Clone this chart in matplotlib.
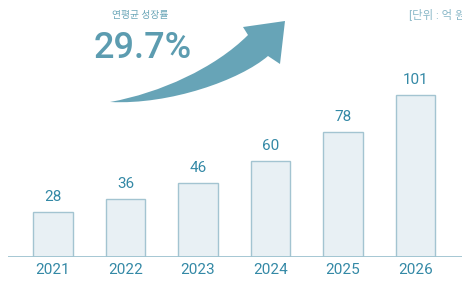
import matplotlib.pyplot as plt
import matplotlib.transforms as mtransforms
from matplotlib.path import Path
from matplotlib.patches import PathPatch

plt.rcParams['font.family'] = ['Roboto', 'Noto Sans CJK KR', 'DejaVu Sans']

years = ['2021', '2022', '2023', '2024', '2025', '2026']
values = [28, 36, 46, 60, 78, 101]
cagr_label = '연평균 성장률'
cagr_value = '29.7%'
unit_label = '[단위 : 억 원]'

W, H = 462, 284
fig = plt.figure(figsize=(W / 100, H / 100), dpi=100)

# axes: baseline at y=257px, ~72.5px between bar centres
ax = fig.add_axes([8 / W, 1 - 257 / H, 1 - 8 / W, 257 / H])
x = list(range(len(years)))
ax.bar(x, values, width=0.54, color='#e8f0f4', edgecolor='#a3c4d1', linewidth=1.0, zorder=2)
for xi, v in zip(x, values):
    ax.text(xi, v + 5, str(v), ha='center', va='bottom', fontsize=11,
            color='#3489a6')
ax.set_xlim(-0.62, 5.64)
ax.set_ylim(0, 160.6)
ax.axhline(0, color='#9ec3d0', linewidth=1.3, zorder=3)
for s in ax.spines.values():
    s.set_visible(False)
ax.set_yticks([])
ax.set_xticks(x)
ax.set_xticklabels(years, fontsize=11, color='#3489a6')
ax.tick_params(axis='x', length=0, pad=4)

# pixel transform (origin top-left) for decorations
px = mtransforms.Affine2D().scale(1 / W, -1 / H).translate(0, 1) + fig.transFigure

fig.text(140, 15, cagr_label, transform=px, ha='center', va='center',
         fontsize=7, color='#6aa6b8')
fig.text(143, 48, cagr_value, transform=px, ha='center', va='center',
         fontsize=26, color='#5c9cb0', fontweight='medium')
fig.text(409, 14, unit_label, transform=px, ha='left', va='center',
         fontsize=8.2, color='#8ab8c8')

verts = [(110, 102), (160, 93), (215, 68), (248, 35),
         (243, 27), (285, 21), (280, 64), (268, 56),
         (240, 80), (170, 105), (110, 102), (110, 102)]
codes = [Path.MOVETO, Path.CURVE4, Path.CURVE4, Path.CURVE4,
         Path.LINETO, Path.LINETO, Path.LINETO, Path.LINETO,
         Path.CURVE4, Path.CURVE4, Path.CURVE4, Path.CLOSEPOLY]
arrow = PathPatch(Path(verts, codes), transform=px, facecolor='#67a4b7',
                  edgecolor='none')
fig.add_artist(arrow)

fig.savefig('out.png', dpi=100)
